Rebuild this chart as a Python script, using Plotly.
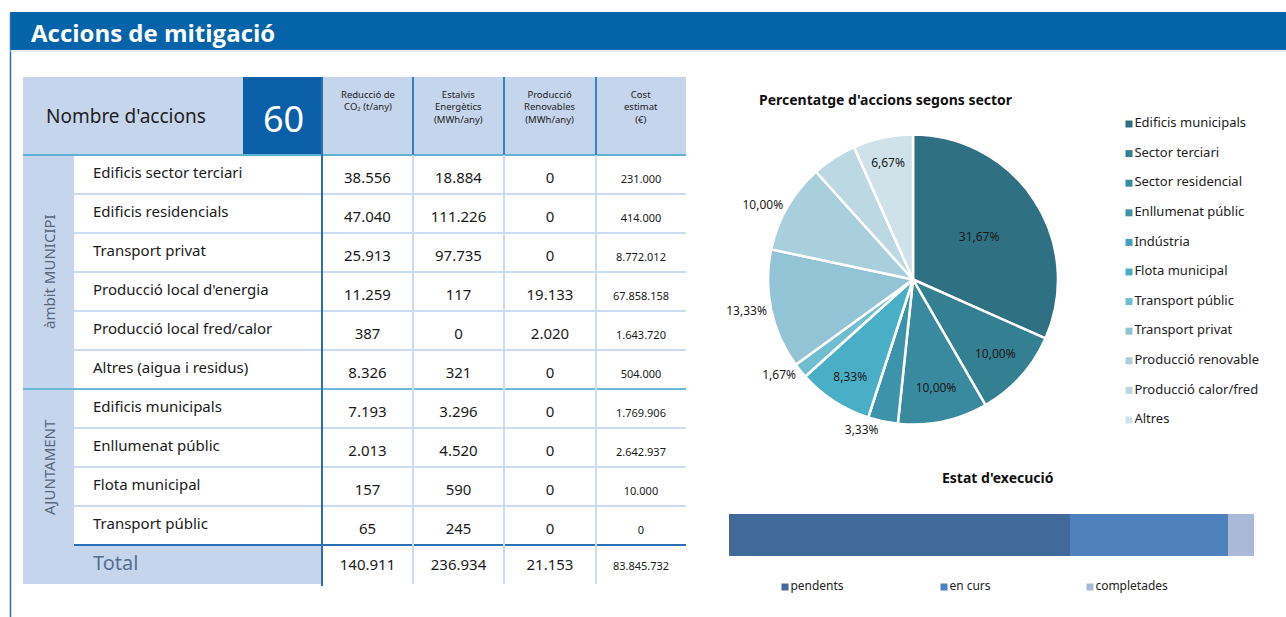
import plotly.graph_objects as go

W, H = 1286, 617

# ---------------- data ----------------
row_names = ["Edificis sector terciari", "Edificis residencials", "Transport privat",
             "Producció local d'energia", "Producció local fred/calor", "Altres (aigua i residus)",
             "Edificis municipals", "Enllumenat públic", "Flota municipal", "Transport públic"]
co2 = [38556, 47040, 25913, 11259, 387, 8326, 7193, 2013, 157, 65]
estalvi = [18884, 111226, 97735, 117, 0, 321, 3296, 4520, 590, 245]
renovables = [0, 0, 0, 19133, 2020, 0, 0, 0, 0, 0]
cost = [231000, 414000, 8772012, 67858158, 1643720, 504000, 1769906, 2642937, 10000, 0]
totals = [140911, 236934, 21153, 83845732]
n_total = 60
col_headers = ["Reducció de<br>CO₂ (t/any)", "Estalvis<br>Energètics<br>(MWh/any)",
               "Producció<br>Renovables<br>(MWh/any)", "Cost<br>estimat<br>(€)"]
sections = ["àmbit MUNICIPI", "AJUNTAMENT"]
section_rows = [6, 4]

sectors = ["Edificis municipals", "Sector terciari", "Sector residencial", "Enllumenat públic",
           "Indústria", "Flota municipal", "Transport públic", "Transport privat",
           "Producció renovable", "Producció calor/fred", "Altres"]
n_accions = [19, 6, 6, 2, 0, 5, 1, 8, 6, 3, 4]
sector_colors = ["#2f7182", "#357f92", "#3a8a9f", "#3d93aa", "#43a0b8", "#4aafc6",
                 "#70bdd0", "#93c4d5", "#a9cfdd", "#bcd8e3", "#cfe2ea"]
label_pos = ["inside", "inside", "inside", "outside", "none", "inside", "outside",
             "outside", "outside", "none", "inside"]

estat_labels = ["pendents", "en curs", "completades"]
estat_vals = [39, 18, 3]
estat_colors = ["#416a9a", "#4f81bd", "#aab9d8"]

# ---------------- layout constants ----------------
FONT = "Noto Sans"
LIGHT = "#c5d5ec"
DARK = "#0b5fa8"
tx0, tx_side, tx_name, tx1 = 23, 74, 322, 686
col_edges = [322, 413, 504, 596, 686]
hy0, hy1 = 77, 155
row_h = 39
n_rows = len(row_names)
total_y0 = hy1 + n_rows * row_h
total_y1 = total_y0 + row_h


def fmt(v):
    return f"{v:,}".replace(",", ".")


fig = go.Figure()
shapes = []
annotations = []


def rect(x0, y0, x1, y1, color, layer="below"):
    shapes.append(dict(type="rect", xref="x2", yref="y2", x0=x0, x1=x1, y0=y0, y1=y1,
                       fillcolor=color, line=dict(width=0), layer=layer))


def line(x0, y0, x1, y1, color, width=2, layer="below"):
    shapes.append(dict(type="line", xref="x2", yref="y2", x0=x0, x1=x1, y0=y0, y1=y1,
                       line=dict(color=color, width=width), layer=layer))


# frame & header bar
rect(10, 12, W, 50, "#0563a9")
line(10.5, 12, 10.5, H, "#2a6fb5", 1.5)
line(10, 51, W, 51, "#c9d6e6", 1)
annotations.append(dict(xref="x2", yref="y2", x=29, y=32, text="<b>Accions de mitigació</b>",
                        showarrow=False, xanchor="left", yanchor="middle",
                        font=dict(family="Open Sans", size=24, color="white")))

# table backgrounds
rect(tx0, hy0, tx1, hy1, LIGHT)
rect(243, hy0, tx_name, hy1, DARK)
rect(tx0, hy1, tx_side, total_y1, LIGHT)
rect(tx_side, total_y0, tx_name, total_y1, LIGHT)

# horizontal lines
for i in range(1, n_rows):
    if i == section_rows[0]:
        continue
    y = hy1 + i * row_h
    line(tx_side, y, tx1, y, "#cbdbf0", 2)
line(tx0, hy1, tx1, hy1, "#5fb2d2", 2)
ysec = hy1 + section_rows[0] * row_h
line(tx0, ysec, tx1, ysec, "#6cbad6", 2)
line(tx_side, total_y0, tx1, total_y0, "#2a6fb5", 2)

# vertical lines
for xe in col_edges[1:4]:
    line(xe, hy0, xe, hy1, "#3b7fc0", 2)
    line(xe, hy1, xe, total_y1, "#cbdbf0", 2)
line(tx_name, hy0, tx_name, total_y1 + 2, "#2a6fb5", 2)

# header texts
annotations.append(dict(xref="x2", yref="y2", x=126, y=116, text="Nombre d'accions",
                        showarrow=False, font=dict(family=FONT, size=19, color="#222222")))
annotations.append(dict(xref="x2", yref="y2", x=283, y=118, text=str(n_total),
                        showarrow=False, font=dict(family=FONT, size=36, color="white")))
for j, htxt in enumerate(col_headers):
    cx = (col_edges[j] + col_edges[j + 1]) / 2
    annotations.append(dict(xref="x2", yref="y2", x=cx, y=86, text=htxt, showarrow=False,
                            yanchor="top", align="center",
                            font=dict(family=FONT, size=9.5, color="#222222")))

# section labels
start = 0
for lab, n in zip(sections, section_rows):
    yc = hy1 + (start + n / 2) * row_h
    annotations.append(dict(xref="x2", yref="y2", x=49, y=yc, text=lab, textangle=-90,
                            showarrow=False, font=dict(family=FONT, size=15, color="#56677c")))
    start += n

# body text via scatter traces
row_y = [hy1 + (i + 0.5) * row_h for i in range(n_rows)]
fig.add_trace(go.Scatter(x=[93] * n_rows, y=row_y, text=row_names, mode="text",
                         textposition="middle right", xaxis="x2", yaxis="y2",
                         textfont=dict(family=FONT, size=15, color="#1a1a1a"),
                         hoverinfo="skip", showlegend=False))
value_cols = [co2, estalvi, renovables]
for j, vals in enumerate(value_cols):
    cx = (col_edges[j] + col_edges[j + 1]) / 2
    fig.add_trace(go.Scatter(x=[cx] * (n_rows + 1), y=[y + 5 for y in row_y] + [total_y0 + 21],
                             text=[fmt(v) for v in vals] + [fmt(totals[j])], mode="text",
                             xaxis="x2", yaxis="y2",
                             textfont=dict(family=FONT, size=15, color="#1a1a1a"),
                             hoverinfo="skip", showlegend=False))
cx = (col_edges[3] + col_edges[4]) / 2
fig.add_trace(go.Scatter(x=[cx] * (n_rows + 1), y=[y + 6 for y in row_y] + [total_y0 + 22],
                         text=[fmt(v) for v in cost] + [fmt(totals[3])], mode="text",
                         xaxis="x2", yaxis="y2",
                         textfont=dict(family=FONT, size=11, color="#1a1a1a"),
                         hoverinfo="skip", showlegend=False))
fig.add_trace(go.Scatter(x=[93], y=[total_y0 + 20], text=["Total"], mode="text",
                         textposition="middle right", xaxis="x2", yaxis="y2",
                         textfont=dict(family=FONT, size=20, color="#55708f"),
                         hoverinfo="skip", showlegend=False))

# ---------------- pie ----------------
fig.add_trace(go.Pie(labels=sectors, values=n_accions, sort=False, direction="clockwise",
                     rotation=0, marker=dict(colors=sector_colors, line=dict(color="white", width=2.5)),
                     textposition=label_pos, texttemplate="%{percent:.2%}",
                     insidetextorientation="horizontal",
                     insidetextfont=dict(family=FONT, size=12, color="#1a1a1a"),
                     outsidetextfont=dict(family=FONT, size=12, color="#1a1a1a"),
                     domain=dict(x=[768 / W, 1058 / W], y=[1 - 426 / H, 1 - 133 / H]),
                     showlegend=False, hoverinfo="label+value+percent"))
annotations.append(dict(xref="x2", yref="y2", x=886, y=99,
                        text="<b>Percentatge d'accions segons sector</b>", showarrow=False,
                        font=dict(family=FONT, size=14, color="#111111")))
# pie legend
leg_y = [124 + 29.6 * i for i in range(len(sectors))]
fig.add_trace(go.Scatter(x=[1129] * len(sectors), y=leg_y, mode="markers+text",
                         marker=dict(symbol="square", size=7, color=sector_colors),
                         text=sectors, textposition="middle right", xaxis="x2", yaxis="y2",
                         textfont=dict(family=FONT, size=13, color="#222222"),
                         hoverinfo="skip", showlegend=False))

# ---------------- stacked bar ----------------
for lab, v, c in zip(estat_labels, estat_vals, estat_colors):
    fig.add_trace(go.Bar(x=[v], y=["estat"], orientation="h", name=lab,
                         marker=dict(color=c, line=dict(width=0)), showlegend=False,
                         xaxis="x", yaxis="y"))
annotations.append(dict(xref="x2", yref="y2", x=998, y=477, text="<b>Estat d'execució</b>",
                        showarrow=False, font=dict(family=FONT, size=14, color="#111111")))
bar_leg_x = [785, 944, 1090]
fig.add_trace(go.Scatter(x=bar_leg_x, y=[587] * 3, mode="markers+text",
                         marker=dict(symbol="square", size=7, color=estat_colors),
                         text=estat_labels, textposition="middle right", xaxis="x2", yaxis="y2",
                         textfont=dict(family=FONT, size=12, color="#222222"),
                         hoverinfo="skip", showlegend=False))

fig.update_layout(
    width=W, height=H, margin=dict(l=0, r=0, t=0, b=0),
    paper_bgcolor="white", plot_bgcolor="rgba(0,0,0,0)",
    separators=",.", barmode="stack", bargap=0,
    xaxis=dict(domain=[729 / W, 1254 / W], range=[0, sum(estat_vals)], visible=False,
               fixedrange=True),
    yaxis=dict(domain=[1 - 556 / H, 1 - 514 / H], range=[-0.5, 0.5], visible=False,
               fixedrange=True),
    xaxis2=dict(domain=[0, 1], range=[0, W], visible=False, anchor="y2", fixedrange=True),
    yaxis2=dict(domain=[0, 1], range=[H, 0], visible=False, anchor="x2", fixedrange=True),
    shapes=shapes, annotations=annotations, showlegend=False,
)

fig.write_html("out.html", config={"displayModeBar": False},
               post_script="document.body.style.margin='0px';document.body.style.overflow='hidden';")
